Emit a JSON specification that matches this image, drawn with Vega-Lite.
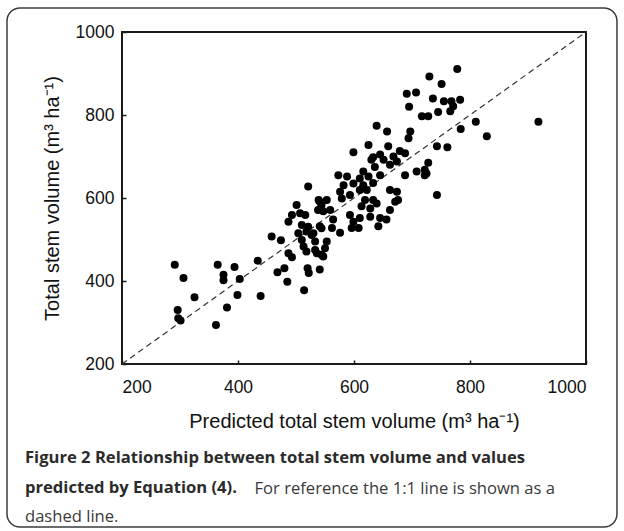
{
  "$schema": "https://vega.github.io/schema/vega-lite/v6.json",
  "width": 464,
  "height": 332,
  "autosize": "none",
  "padding": {"left": 122, "top": 32, "right": 38, "bottom": 167},
  "background": "white",
  "title": {
    "text": ["Figure 2 Relationship between total stem volume and values", "predicted by Equation (4)."],
    "subtitle": "dashed line.",
    "orient": "bottom",
    "anchor": "start",
    "frame": "group",
    "font": "Open Sans",
    "fontWeight": "bold",
    "fontSize": 16.6,
    "color": "#2b2b2b",
    "lineHeight": 30,
    "subtitleFont": "Open Sans",
    "subtitleFontWeight": "normal",
    "subtitleFontSize": 16.6,
    "subtitleColor": "#3a3a3a",
    "subtitleLineHeight": 30,
    "subtitlePadding": 13,
    "offset": -78,
    "dx": -97
  },
  "config": {
    "view": {"stroke": "#1a1a1a", "strokeWidth": 2},
    "axis": {
      "grid": false,
      "domain": false,
      "tickColor": "#1a1a1a",
      "tickWidth": 1.5,
      "tickSize": -4,
      "labelFont": "Liberation Sans",
      "labelFontSize": 17.5,
      "labelColor": "#111",
      "titleFont": "Liberation Sans",
      "titleFontSize": 20,
      "titleFontWeight": "normal",
      "titleColor": "#111"
    }
  },
  "resolve": {"scale": {"y": "independent"}},
  "layer": [
    {
      "data": {"values": [{"frame": "figure"}]},
      "mark": {"type": "rect", "cornerRadius": 13, "fill": "transparent", "stroke": "#3c3c3c", "strokeWidth": 1.5},
      "encoding": {
        "x": {"datum": 1.7, "type": "quantitative", "scale": {"domain": [200, 1000], "nice": false, "zero": false}},
        "x2": {"datum": 1053.4},
        "y": {"datum": 1057.8, "type": "quantitative", "scale": {"domain": [200, 1000], "nice": false, "zero": false}, "axis": null},
        "y2": {"datum": -192.8}
      }
    },
    {
      "data": {"values": [{"pred": 200, "obs": 200}, {"pred": 1000, "obs": 1000}]},
      "mark": {"type": "line", "color": "#333", "strokeWidth": 1.2, "strokeDash": [6, 4]},
      "encoding": {
        "x": {"field": "pred", "type": "quantitative", "scale": {"domain": [200, 1000], "nice": false, "zero": false}},
        "y": {
          "field": "obs", "type": "quantitative",
          "scale": {"domain": [200, 1000], "nice": false, "zero": false},
          "axis": {
            "orient": "right", "labels": false, "ticks": false, "domain": false, "grid": false,
            "title": "For reference the 1:1 line is shown as a",
            "titleFont": "Open Sans", "titleFontSize": 16.6, "titleFontWeight": "normal", "titleColor": "#3a3a3a",
            "titleAngle": 0, "titleAlign": "left", "titleBaseline": "alphabetic",
            "titleX": -332, "titleY": 461
          }
        }
      }
    },
    {
      "data": {"values": [
        {"pred": 291, "obs": 439}, {"pred": 306, "obs": 407}, {"pred": 325, "obs": 361}, {"pred": 296, "obs": 330},
        {"pred": 297, "obs": 310}, {"pred": 301, "obs": 305}, {"pred": 362, "obs": 294}, {"pred": 365, "obs": 439},
        {"pred": 375, "obs": 415}, {"pred": 375, "obs": 402}, {"pred": 394, "obs": 434}, {"pred": 399, "obs": 366},
        {"pred": 381, "obs": 336}, {"pred": 403, "obs": 405}, {"pred": 434, "obs": 449}, {"pred": 439, "obs": 364},
        {"pred": 458, "obs": 507}, {"pred": 474, "obs": 498}, {"pred": 468, "obs": 421}, {"pred": 480, "obs": 431},
        {"pred": 485, "obs": 398}, {"pred": 514, "obs": 378}, {"pred": 487, "obs": 467}, {"pred": 493, "obs": 457},
        {"pred": 520, "obs": 431}, {"pred": 522, "obs": 419}, {"pred": 541, "obs": 428}, {"pred": 501, "obs": 583},
        {"pred": 493, "obs": 559}, {"pred": 507, "obs": 563}, {"pred": 487, "obs": 543}, {"pred": 521, "obs": 531},
        {"pred": 504, "obs": 515}, {"pred": 510, "obs": 499}, {"pred": 527, "obs": 511}, {"pred": 533, "obs": 495},
        {"pred": 513, "obs": 483}, {"pred": 518, "obs": 471}, {"pred": 533, "obs": 475}, {"pred": 544, "obs": 463},
        {"pred": 538, "obs": 571}, {"pred": 541, "obs": 591}, {"pred": 544, "obs": 527}, {"pred": 695, "obs": 820},
        {"pred": 717, "obs": 797}, {"pred": 728, "obs": 797}, {"pred": 639, "obs": 774}, {"pred": 657, "obs": 760},
        {"pred": 697, "obs": 760}, {"pred": 694, "obs": 744}, {"pred": 625, "obs": 728}, {"pred": 659, "obs": 725},
        {"pred": 599, "obs": 710}, {"pred": 679, "obs": 713}, {"pred": 645, "obs": 705}, {"pred": 743, "obs": 725},
        {"pred": 728, "obs": 685}, {"pred": 708, "obs": 664}, {"pred": 725, "obs": 659}, {"pred": 688, "obs": 655},
        {"pred": 630, "obs": 692}, {"pred": 651, "obs": 692}, {"pred": 662, "obs": 680}, {"pred": 674, "obs": 688},
        {"pred": 636, "obs": 675}, {"pred": 616, "obs": 664}, {"pred": 625, "obs": 652}, {"pred": 645, "obs": 655},
        {"pred": 610, "obs": 647}, {"pred": 633, "obs": 636}, {"pred": 573, "obs": 655}, {"pred": 588, "obs": 652},
        {"pred": 582, "obs": 631}, {"pred": 599, "obs": 635}, {"pred": 616, "obs": 631}, {"pred": 576, "obs": 615},
        {"pred": 593, "obs": 607}, {"pred": 610, "obs": 619}, {"pred": 622, "obs": 619}, {"pred": 579, "obs": 599},
        {"pred": 521, "obs": 628}, {"pred": 539, "obs": 595}, {"pred": 553, "obs": 595}, {"pred": 544, "obs": 583},
        {"pred": 559, "obs": 571}, {"pred": 547, "obs": 568}, {"pred": 619, "obs": 595}, {"pred": 633, "obs": 595},
        {"pred": 639, "obs": 587}, {"pred": 613, "obs": 580}, {"pred": 628, "obs": 575}, {"pred": 662, "obs": 619},
        {"pred": 674, "obs": 615}, {"pred": 671, "obs": 591}, {"pred": 676, "obs": 595}, {"pred": 662, "obs": 571},
        {"pred": 593, "obs": 559}, {"pred": 599, "obs": 543}, {"pred": 610, "obs": 552}, {"pred": 628, "obs": 555},
        {"pred": 645, "obs": 552}, {"pred": 642, "obs": 532}, {"pred": 608, "obs": 528}, {"pred": 596, "obs": 528},
        {"pred": 656, "obs": 548}, {"pred": 564, "obs": 548}, {"pred": 562, "obs": 528}, {"pred": 576, "obs": 516},
        {"pred": 541, "obs": 532}, {"pred": 516, "obs": 559}, {"pred": 510, "obs": 535}, {"pred": 518, "obs": 519},
        {"pred": 530, "obs": 515}, {"pred": 553, "obs": 495}, {"pred": 550, "obs": 479}, {"pred": 536, "obs": 467},
        {"pred": 547, "obs": 459}, {"pred": 743, "obs": 607}, {"pred": 778, "obs": 911}, {"pred": 730, "obs": 893},
        {"pred": 751, "obs": 875}, {"pred": 736, "obs": 840}, {"pred": 755, "obs": 833}, {"pred": 768, "obs": 833},
        {"pred": 783, "obs": 837}, {"pred": 771, "obs": 821}, {"pred": 766, "obs": 809}, {"pred": 745, "obs": 807},
        {"pred": 810, "obs": 784}, {"pred": 918, "obs": 784}, {"pred": 784, "obs": 766}, {"pred": 829, "obs": 749},
        {"pred": 761, "obs": 722}, {"pred": 722, "obs": 668}, {"pred": 722, "obs": 655}, {"pred": 691, "obs": 851},
        {"pred": 707, "obs": 854}, {"pred": 633, "obs": 698}, {"pred": 668, "obs": 700}, {"pred": 688, "obs": 708}
      ]},
      "mark": {"type": "point", "shape": "circle", "filled": true, "color": "#000", "opacity": 1, "size": 64},
      "encoding": {
        "x": {
          "field": "pred", "type": "quantitative",
          "scale": {"domain": [200, 1000], "nice": false, "zero": false},
          "axis": {"values": [200, 400, 600, 800, 1000], "format": "d", "title": "Predicted total stem volume (m³ ha⁻¹)", "labelPadding": 18, "titlePadding": 16}
        },
        "y": {
          "field": "obs", "type": "quantitative",
          "scale": {"domain": [200, 1000], "nice": false, "zero": false},
          "axis": {"orient": "left", "values": [200, 400, 600, 800, 1000], "format": "d", "title": "Total stem volume (m³ ha⁻¹)", "labelPadding": 12, "titlePadding": 13}
        }
      }
    }
  ]
}
